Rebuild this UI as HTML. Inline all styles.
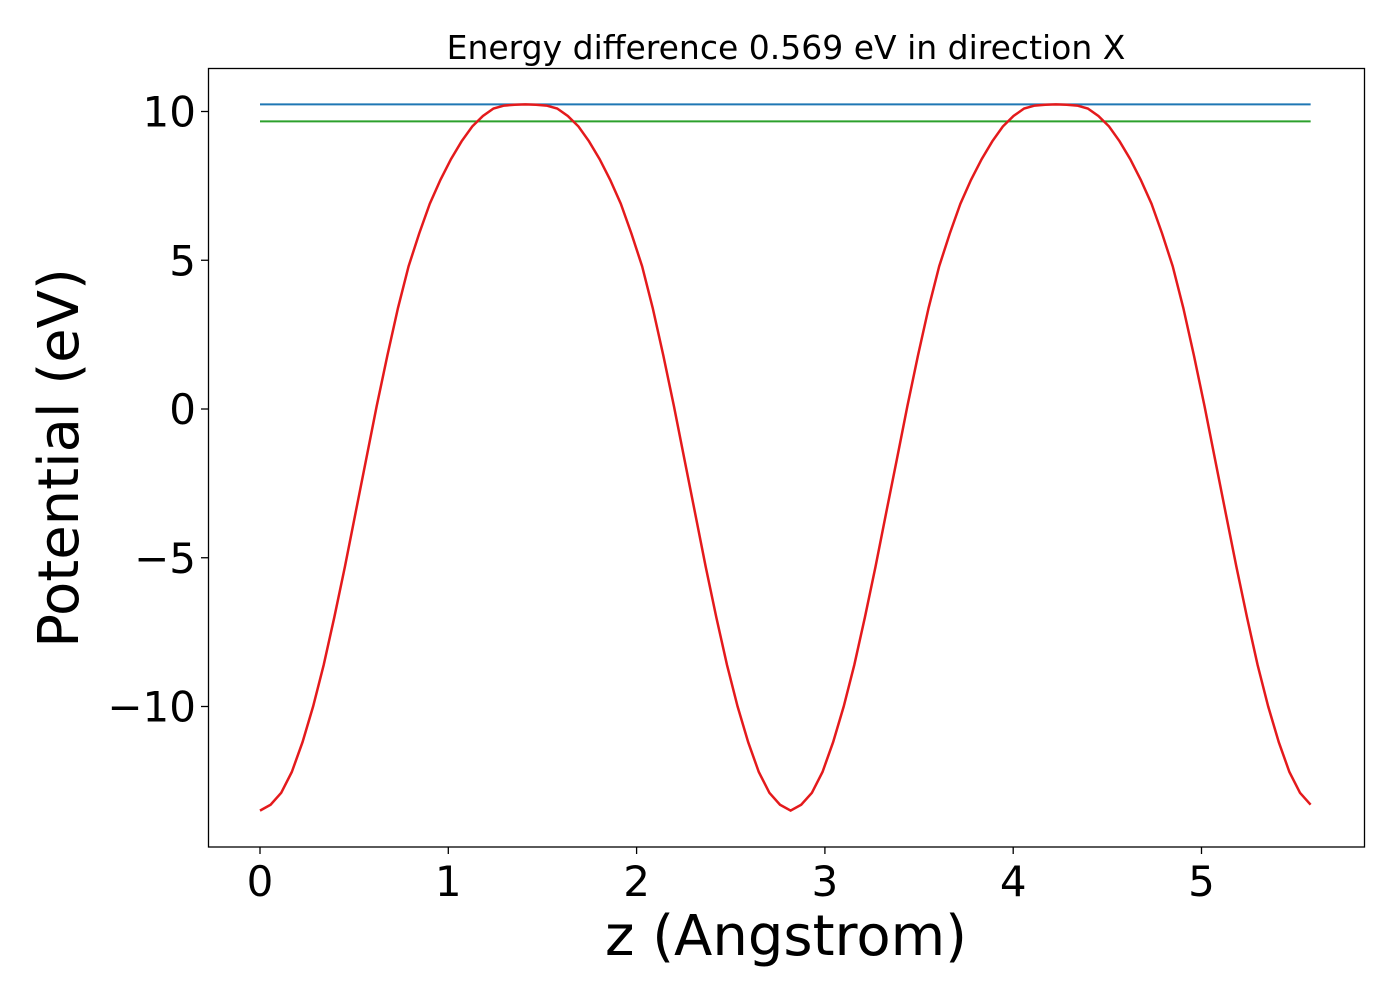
<!DOCTYPE html>
<html><head><meta charset="utf-8"><style>
html,body{margin:0;padding:0;background:#fff;}
svg{display:block;font-family:"DejaVu Sans","Liberation Sans",sans-serif;}
</style></head><body>
<svg id="chart" width="1400" height="1000" viewBox="0 0 1400 1000" xmlns="http://www.w3.org/2000/svg">
<rect x="0" y="0" width="1400" height="1000" fill="#fff"/>
<text x="786" y="59" font-size="33" text-anchor="middle">Energy difference 0.569 eV in direction X</text>
<g id="xticks"></g><g id="yticks"></g>
<g id="series"></g>
<rect x="208.5" y="68.5" width="1156" height="778.5" fill="none" stroke="#000" stroke-width="1.3"/>
<text x="786" y="955" font-size="56" text-anchor="middle">z (Angstrom)</text>
<text transform="translate(78,458) rotate(-90)" font-size="56" text-anchor="middle">Potential (eV)</text>
</svg>
<script>
const xTicks=[0,1,2,3,4,5];
const yTicks=[10,5,0,-5,-10];
const zStep=0.05636;
const potential=[-13.5,-13.3,-12.9,-12.2,-11.2,-10.0,-8.6,-7.0,-5.3,-3.5,-1.7,0.1,1.8,3.4,4.8,5.9,6.9,7.7,8.4,9.0,9.5,9.85,10.1,10.2,10.23,10.24,
10.23,10.2,10.1,9.85,9.5,9.0,8.4,7.7,6.9,5.9,4.8,3.4,1.8,0.1,-1.7,-3.5,-5.3,-7.0,-8.6,-10.0,-11.2,-12.2,-12.9,-13.3,-13.5,
-13.3,-12.9,-12.2,-11.2,-10.0,-8.6,-7.0,-5.3,-3.5,-1.7,0.1,1.8,3.4,4.8,5.9,6.9,7.7,8.4,9.0,9.5,9.85,10.1,10.2,10.23,10.24,
10.23,10.2,10.1,9.85,9.5,9.0,8.4,7.7,6.9,5.9,4.8,3.4,1.8,0.1,-1.7,-3.5,-5.3,-7.0,-8.6,-10.0,-11.2,-12.2,-12.9,-13.3];
const maxLevel=[10.24];
const diffLevel=[9.67];
const ns="http://www.w3.org/2000/svg";
function sx(v){return 260+v*188.3;}
function sy(v){return 409-v*29.75;}
function mk(t,a,p){const e=document.createElementNS(ns,t);for(const k in a)e.setAttribute(k,a[k]);p.appendChild(e);return e;}
const xg=document.getElementById('xticks'),yg=document.getElementById('yticks'),sg=document.getElementById('series');
xTicks.forEach(v=>{
 const l=mk('line',{x1:sx(v),x2:sx(v),y1:847,y2:854,stroke:'#000','stroke-width':1.3},xg);
 
 
 const t=mk('text',{x:sx(v),y:896,'font-size':42,'text-anchor':'middle'},xg);
 t.textContent=String(v);
 
 
});
yTicks.forEach(v=>{
 const l=mk('line',{x1:201,x2:208,y1:sy(v),y2:sy(v),stroke:'#000','stroke-width':1.3},yg);
 
 
 const t=mk('text',{x:196,y:sy(v)+15,'font-size':42,'text-anchor':'end'},yg);
 t.textContent=v<0?'\u2212'+Math.abs(v):String(v);
 
 
});
const zMax=(potential.length-1)*zStep;
const b=mk('line',{x1:sx(0),x2:sx(zMax),y1:sy(maxLevel[0]),y2:sy(maxLevel[0]),stroke:'#1f77b4','stroke-width':2},sg);


const g=mk('line',{x1:sx(0),x2:sx(zMax),y1:sy(diffLevel[0]),y2:sy(diffLevel[0]),stroke:'#2ca02c','stroke-width':2},sg);


const pts=potential.map((v,i)=>sx(i*zStep).toFixed(1)+','+sy(v).toFixed(1)).join(' ');
const p=mk('polyline',{points:pts,fill:'none',stroke:'#e41a1c','stroke-width':2.5},sg);


</script>
</body></html>
